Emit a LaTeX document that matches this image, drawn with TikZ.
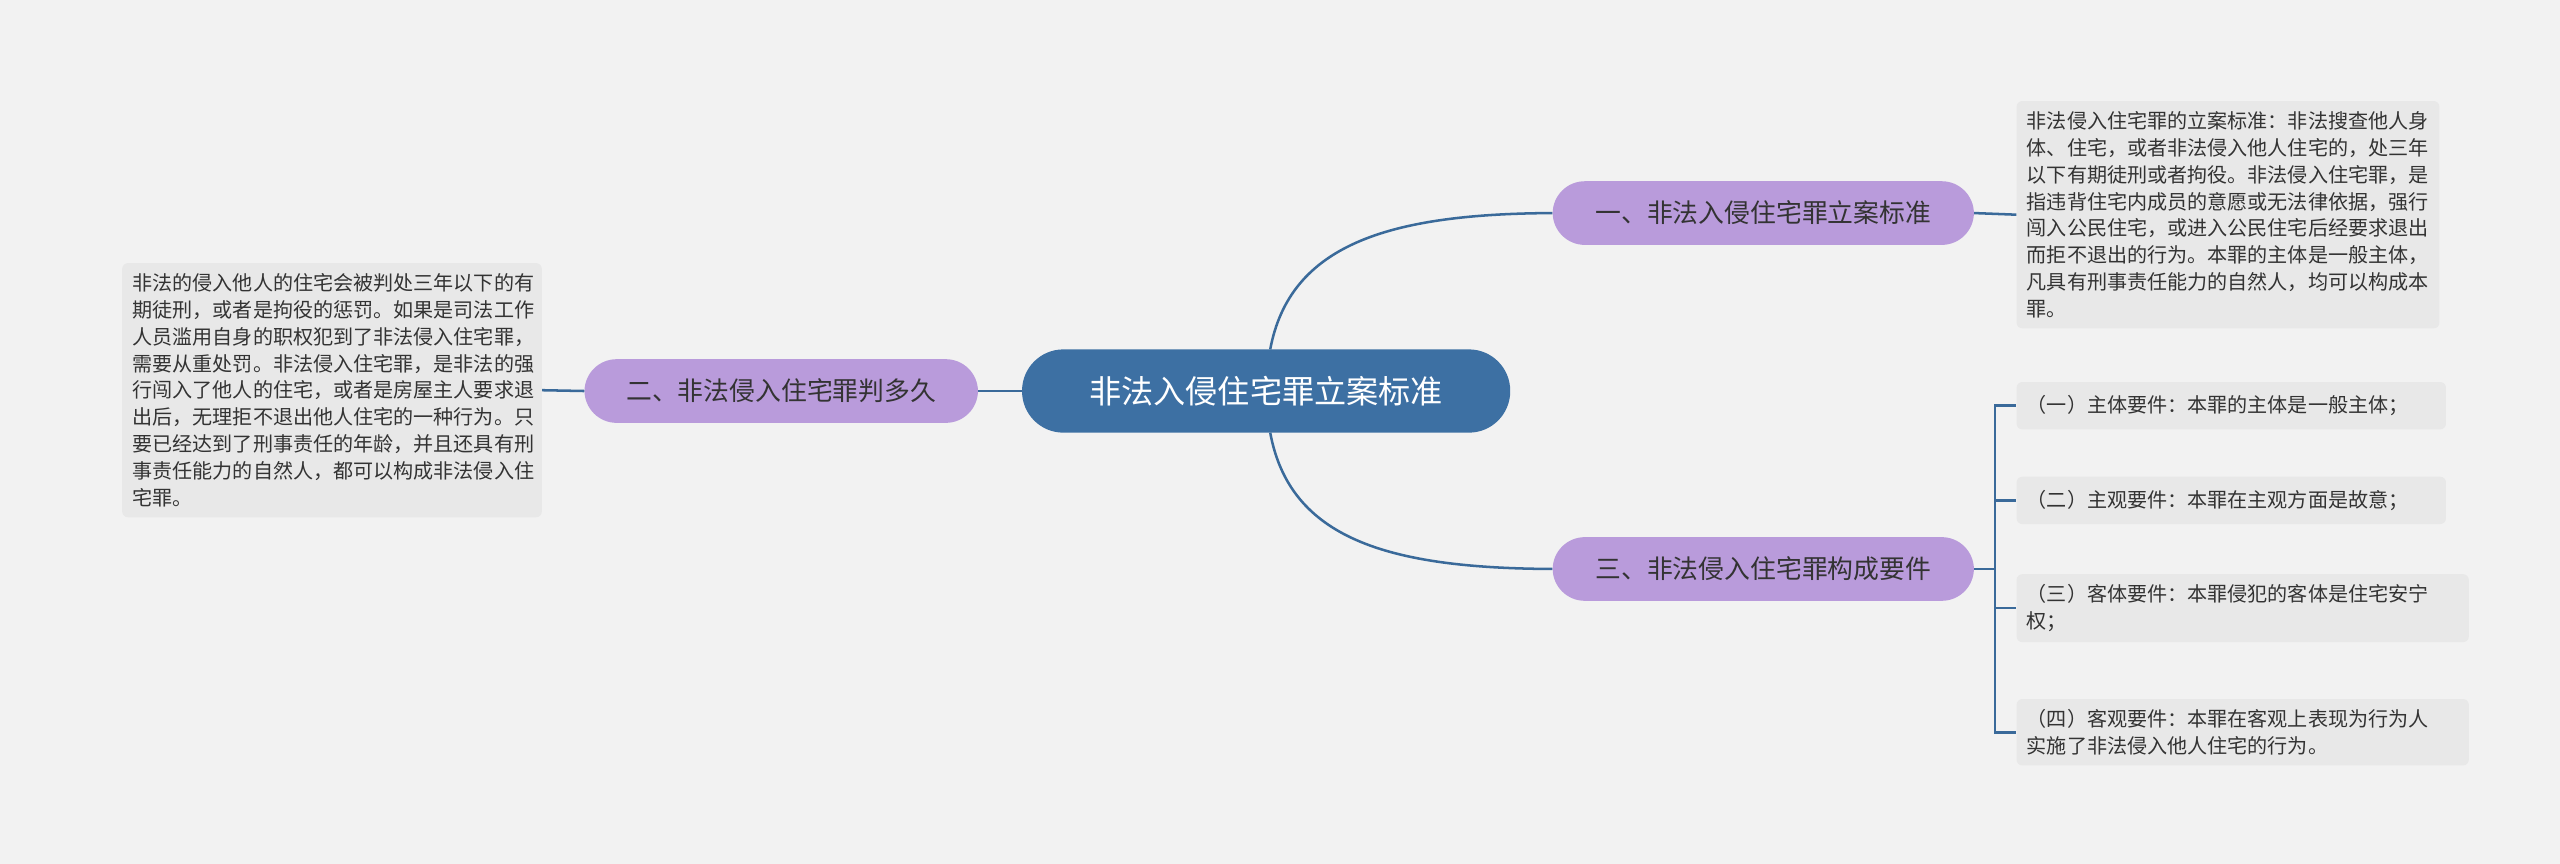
\documentclass[tikz,border=0pt]{standalone}
\usepackage{fontspec}
\setmainfont{Noto Sans CJK SC}
\begin{document}
\begin{tikzpicture}[x=0.05cm,y=-0.05cm,
  line/.style={draw=linec,line width=2.2pt},
  center/.style={draw=none,fill=cblue,rounded corners=36pt,text=white,font=\fontsize{28}{32}\selectfont,minimum width=299*0.05cm,minimum height=51*0.05cm,inner sep=0pt},
  branch/.style={fill=lav,rounded corners=28pt,text=tdark,font=\fontsize{22.5}{26}\selectfont,minimum width=258*0.05cm,minimum height=39*0.05cm,inner sep=0pt},
  leaf/.style={fill=leafc,rounded corners=5pt,text=tdark,font=\fontsize{17.5}{23.4}\selectfont,align=left,inner xsep=9pt,inner ysep=9pt,anchor=west}]
\definecolor{bg}{HTML}{F2F2F2}
\definecolor{cblue}{HTML}{3D70A3}
\definecolor{lav}{HTML}{B99BDB}
\definecolor{leafc}{HTML}{E8E8E8}
\definecolor{linec}{HTML}{3A6A9A}
\definecolor{tdark}{HTML}{333333}
\fill[bg] (0,0) rectangle (1568,529);
\useasboundingbox (0,0) rectangle (1568,529);
\node[center] (c) at (775.5,239.5) {非法入侵住宅罪立案标准};
\node[branch] (b1) at (1080,130.5) {一、非法入侵住宅罪立案标准};
\node[branch] (b3) at (1080,348.5) {三、非法侵入住宅罪构成要件};
\node[branch,minimum width=241*0.05cm] (b2) at (478.5,239.5) {二、非法侵入住宅罪判多久};
\node[leaf,text width=259*0.05cm-18pt] (l1) at (1235,131.5) {非法侵入住宅罪的立案标准：非法搜查他人身\\体、住宅，或者非法侵入他人住宅的，处三年\\以下有期徒刑或者拘役。非法侵入住宅罪，是\\指违背住宅内成员的意愿或无法律依据，强行\\闯入公民住宅，或进入公民住宅后经要求退出\\而拒不退出的行为。本罪的主体是一般主体，\\凡具有刑事责任能力的自然人，均可以构成本\\罪。};
\node[leaf,anchor=east,text width=257*0.05cm-18pt] (l2) at (332,239) {非法的侵入他人的住宅会被判处三年以下的有\\期徒刑，或者是拘役的惩罚。如果是司法工作\\人员滥用自身的职权犯到了非法侵入住宅罪，\\需要从重处罚。非法侵入住宅罪，是非法的强\\行闯入了他人的住宅，或者是房屋主人要求退\\出后，无理拒不退出他人住宅的一种行为。只\\要已经达到了刑事责任的年龄，并且还具有刑\\事责任能力的自然人，都可以构成非法侵入住\\宅罪。};
\node[leaf,text width=263*0.05cm-18pt,minimum height=29*0.05cm] (r1) at (1235,248.5) {（一）主体要件：本罪的主体是一般主体；};
\node[leaf,text width=263*0.05cm-18pt,minimum height=29*0.05cm] (r2) at (1235,306.5) {（二）主观要件：本罪在主观方面是故意；};
\node[leaf,text width=277*0.05cm-18pt] (r3) at (1235,372.5) {（三）客体要件：本罪侵犯的客体是住宅安宁\\权；};
\node[leaf,text width=277*0.05cm-18pt] (r4) at (1235,448.5) {（四）客观要件：本罪在客观上表现为行为人\\实施了非法侵入他人住宅的行为。};
\coordinate (ct) at (778,214);
\coordinate (cb) at (778,265);
\draw[line] (ct) .. controls (790,150) and (850,131) .. (b1.west);
\draw[line] (cb) .. controls (790,330) and (850,348) .. (b3.west);
\draw[line] (c.west) -- (b2.east);
\draw[line] (b1.east) -- (l1.west);
\draw[line] (b2.west) -- (l2.east);
\coordinate (bj) at (1222,348.5);
\draw[line] (b3.east) -- (bj);
\foreach \r in {r1,r2,r3,r4}{
  \draw[line] (bj) .. controls (1222,348.5) and (1222,348.5) .. (bj |- \r.west) .. controls (1222,0 |- \r.west) .. (\r.west);
}
\end{tikzpicture}
\end{document}
